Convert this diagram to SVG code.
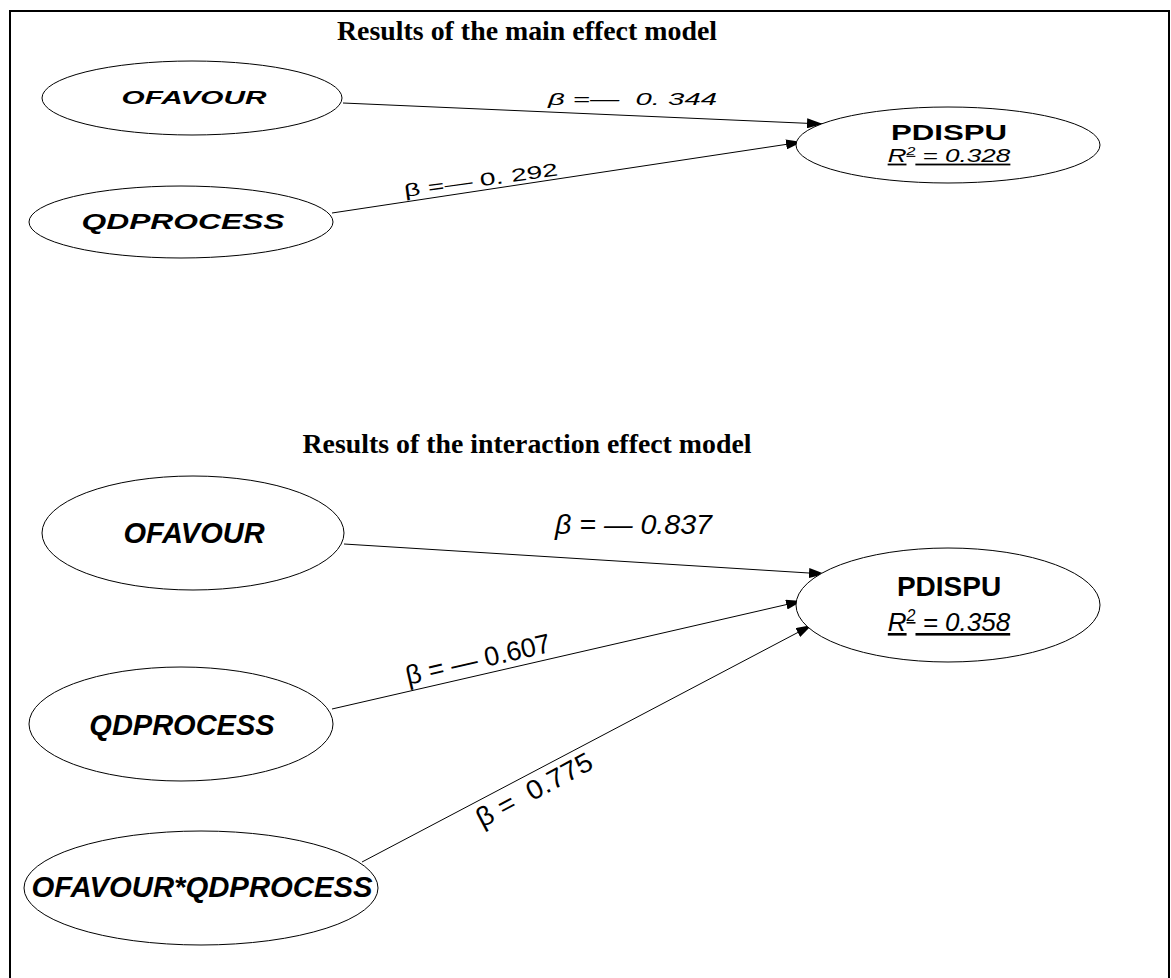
<svg xmlns="http://www.w3.org/2000/svg" width="1171" height="978" viewBox="0 0 1171 978">
  <style>
    .frame { fill: #fff; stroke: #000; stroke-width: 2; }
    .node { fill: #fff; stroke: #000; stroke-width: 1; }
    .edge { stroke: #000; stroke-width: 1; fill: none; marker-end: url(#arrow); }
    .title { font-family: "Liberation Serif", "Times New Roman", serif; font-weight: bold; fill: #000; text-anchor: middle; }
    .var { font-family: "Liberation Sans", Arial, sans-serif; font-weight: bold; font-style: italic; fill: #000; text-anchor: middle; }
    .dep { font-family: "Liberation Sans", Arial, sans-serif; font-weight: bold; fill: #000; text-anchor: middle; }
    .r2 { font-family: "Liberation Sans", Arial, sans-serif; font-style: italic; fill: #000; text-anchor: middle; text-decoration: underline; }
    .beta { font-family: "Liberation Sans", Arial, sans-serif; fill: #000; }
    .it { font-style: italic; }
  </style>
  <defs>
    <marker id="arrow" markerUnits="userSpaceOnUse" markerWidth="16" markerHeight="10" refX="16" refY="5" orient="auto">
      <path d="M0,0 L16,5 L0,10 z" fill="#000"/>
    </marker>
  </defs>

  <!-- outer border -->
  <rect class="frame" x="10" y="11" width="1159" height="1000"/>

  <!-- section headings -->
  <text class="title" x="527" y="40" font-size="28" textLength="380" lengthAdjust="spacingAndGlyphs">Results of the main effect model</text>
  <text class="title" x="527" y="453" font-size="27" textLength="449" lengthAdjust="spacingAndGlyphs">Results of the interaction effect model</text>

  <!-- paths -->
  <g id="connectors">
    <line class="edge" x1="343" y1="103" x2="823" y2="124"/>
    <line class="edge" x1="332" y1="213" x2="802" y2="142"/>
    <line class="edge" x1="344" y1="544" x2="825" y2="574"/>
    <line class="edge" x1="332" y1="709" x2="802" y2="601"/>
    <line class="edge" x1="362" y1="862" x2="812" y2="625"/>

    <text class="beta it" x="548" y="105" font-size="17" textLength="169" lengthAdjust="spacingAndGlyphs" xml:space="preserve">β =—  0. 344</text>
    <text class="beta" transform="translate(405,197) rotate(-8)" font-size="18" textLength="155" lengthAdjust="spacingAndGlyphs" xml:space="preserve">β =— 0. 292</text>
    <text class="beta it" x="555" y="534" font-size="28" textLength="157" lengthAdjust="spacingAndGlyphs" xml:space="preserve">β = — 0.837</text>
    <text class="beta" transform="translate(408,685) rotate(-13)" font-size="27" textLength="148" lengthAdjust="spacingAndGlyphs" xml:space="preserve">β = — 0.607</text>
    <text class="beta" transform="translate(482,828) rotate(-28)" font-size="27" textLength="128" lengthAdjust="spacingAndGlyphs" xml:space="preserve">β =  0.775</text>
  </g>

  <!-- main effect model -->
  <g id="m1-ofavour">
    <ellipse class="node" cx="192" cy="98" rx="150" ry="37"/>
    <text class="var" x="194" y="104" font-size="18" textLength="145" lengthAdjust="spacingAndGlyphs">OFAVOUR</text>
  </g>
  <g id="m1-qdprocess">
    <ellipse class="node" cx="181" cy="222" rx="152" ry="36"/>
    <text class="var" x="183" y="229" font-size="22" textLength="203" lengthAdjust="spacingAndGlyphs">QDPROCESS</text>
  </g>
  <g id="m1-pdispu">
    <ellipse class="node" cx="948" cy="145" rx="152" ry="38"/>
    <text class="dep" x="949" y="140" font-size="22" textLength="116" lengthAdjust="spacingAndGlyphs">PDISPU</text>
    <text class="r2" transform="translate(949,162) scale(1.45,1)" font-size="18">R<tspan font-size="11" dy="-7">2</tspan><tspan dy="7"> = 0.328</tspan></text>
  </g>

  <!-- interaction effect model -->
  <g id="m2-ofavour">
    <ellipse class="node" cx="193" cy="533" rx="151" ry="57"/>
    <text class="var" x="194" y="543" font-size="29">OFAVOUR</text>
  </g>
  <g id="m2-qdprocess">
    <ellipse class="node" cx="181" cy="724" rx="152" ry="57"/>
    <text class="var" x="182" y="735" font-size="29">QDPROCESS</text>
  </g>
  <g id="m2-interaction">
    <ellipse class="node" cx="201" cy="888" rx="177" ry="57"/>
    <text class="var" x="202" y="897" font-size="29" textLength="341" lengthAdjust="spacingAndGlyphs">OFAVOUR*QDPROCESS</text>
  </g>
  <g id="m2-pdispu">
    <ellipse class="node" cx="948" cy="605" rx="152" ry="57"/>
    <text class="dep" x="949" y="596" font-size="28">PDISPU</text>
    <text class="r2" x="949" y="631" font-size="26">R<tspan font-size="16" dy="-10">2</tspan><tspan dy="10"> = 0.358</tspan></text>
  </g>
</svg>
